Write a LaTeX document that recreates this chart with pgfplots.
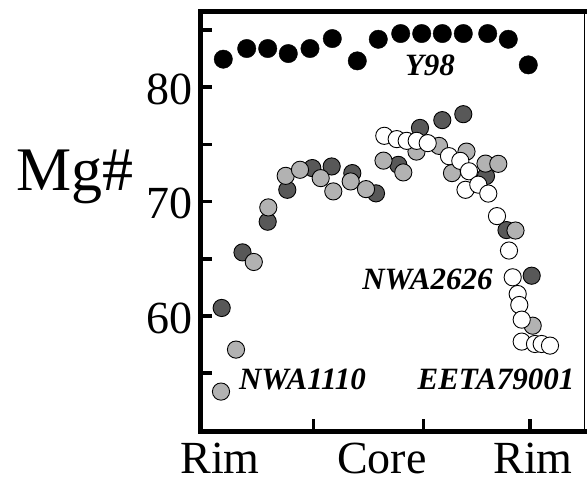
\documentclass[border=0pt]{standalone}
\usepackage{fontspec}
\setmainfont{Liberation Serif}
\usepackage{pgfplots}
\pgfplotsset{compat=1.18}
\definecolor{darkg}{RGB}{88,88,88}
\definecolor{lightg}{RGB}{178,178,178}
\begin{document}
\begin{tikzpicture}
\useasboundingbox (-200.5pt,-48.5pt) rectangle (386.5pt,431.5pt);
\begin{axis}[at={(0,0)}, anchor=south west, scale only axis,
  width=384pt, height=419.8pt,
  xmin=200.5, xmax=584.5, ymin=49.9, ymax=86.6, clip=false,
  axis line style={line width=1.5pt},
  tick align=inside, ytick pos=left, xtick pos=bottom,
  major tick length=12pt, minor tick length=12pt,
  every tick/.style={black, line width=3.5pt},
  ytick={60,70,80}, minor ytick={55,65,75,85},
  xtick={313.3,423.3,530}, xticklabels={,,},
  extra x ticks={220,382,533}, extra x tick labels={Rim,Core,Rim},
  extra x tick style={major tick length=0pt, tick style={draw=none},
     xticklabel style={anchor=base, yshift=-41.5pt, inner sep=0pt}},
  /pgf/number format/assume math mode=true,
  tick label style={font=\fontsize{46pt}{50pt}\selectfont},
  yticklabel style={inner sep=0pt, xshift=-8pt, yshift=-2pt},
  ylabel={Mg\#},
  every axis y label/.style={at={(axis description cs:-0.488,0.575)}, anchor=base west,
     font=\fontsize{62pt}{64pt}\selectfont},
]
% Y98
\addplot[only marks, mark=*, mark size=9.2pt, mark options={fill=black, draw=black}] coordinates {
(223.3,82.45) (246.7,83.38) (267.7,83.38) (288.3,82.94) (310,83.38) (332.3,84.25)
(357.3,82.30) (378.3,84.19) (400.7,84.69) (421.7,84.69) (442.3,84.69) (463.3,84.69)
(487.7,84.69) (508.3,84.19) (528.3,81.95)};
% dark gray
\addplot[only marks, mark=*, mark size=8.6pt, mark options={fill=darkg, draw=black, line width=0.9pt}] coordinates {
(221.7,60.70) (242.5,65.56) (267.7,68.24) (287.3,71.03) (312.3,72.93) (331.7,73.07)
(352.3,72.49) (376,70.72) (398.3,73.21) (420,76.44) (442.3,77.12) (463.3,77.64)
(486,72.23) (506.5,67.51) (531.7,63.52)};
% light gray
\addplot[only marks, mark=*, mark size=8.6pt, mark options={fill=lightg, draw=black, line width=0.9pt}] coordinates {
(221,53.39) (236,57.06) (253.8,64.72) (268.3,69.49) (285.7,72.25) (300,72.78)
(320.7,72.05) (333.3,70.89) (350.7,71.76) (366,71.09) (383.5,73.58) (403.3,72.55)
(416.5,74.37) (439,74.87) (452,72.49) (466.5,74.37) (485.5,73.32) (498.3,73.30)
(515.5,67.47) (532.7,59.15)};
% white
\addplot[only marks, mark=*, mark size=8.6pt, mark options={fill=white, draw=black, line width=0.9pt}] coordinates {
(384.3,75.75) (396.7,75.46) (406.7,75.31) (416.7,75.31) (427.7,75.11) (449,73.97)
(460.3,73.56) (469,72.65) (465.5,71.03) (478.3,71.48) (488.3,70.70) (497,68.73)
(509,65.72) (512.7,63.38) (517.7,61.92) (519.3,60.96) (521.7,59.68) (521.7,57.76)
(535,57.55) (541.7,57.55) (550,57.41)};
\draw[line width=4.5pt, line cap=rect] (rel axis cs:1,1) -- (rel axis cs:0,1) -- (rel axis cs:0,0) -- (rel axis cs:1,0);
\node[font=\fontsize{31pt}{31pt}\selectfont\bfseries\itshape] at (axis cs:430,81.9) {Y98};
\node[font=\fontsize{31pt}{31pt}\selectfont\bfseries\itshape] at (axis cs:427.5,63.17) {NWA2626};
\node[font=\fontsize{31pt}{31pt}\selectfont\bfseries\itshape] at (axis cs:302.5,54.43) {NWA1110};
\node[font=\fontsize{31pt}{31pt}\selectfont\bfseries\itshape] at (axis cs:496,54.43) {EETA79001};
\end{axis}
\end{tikzpicture}
\end{document}
